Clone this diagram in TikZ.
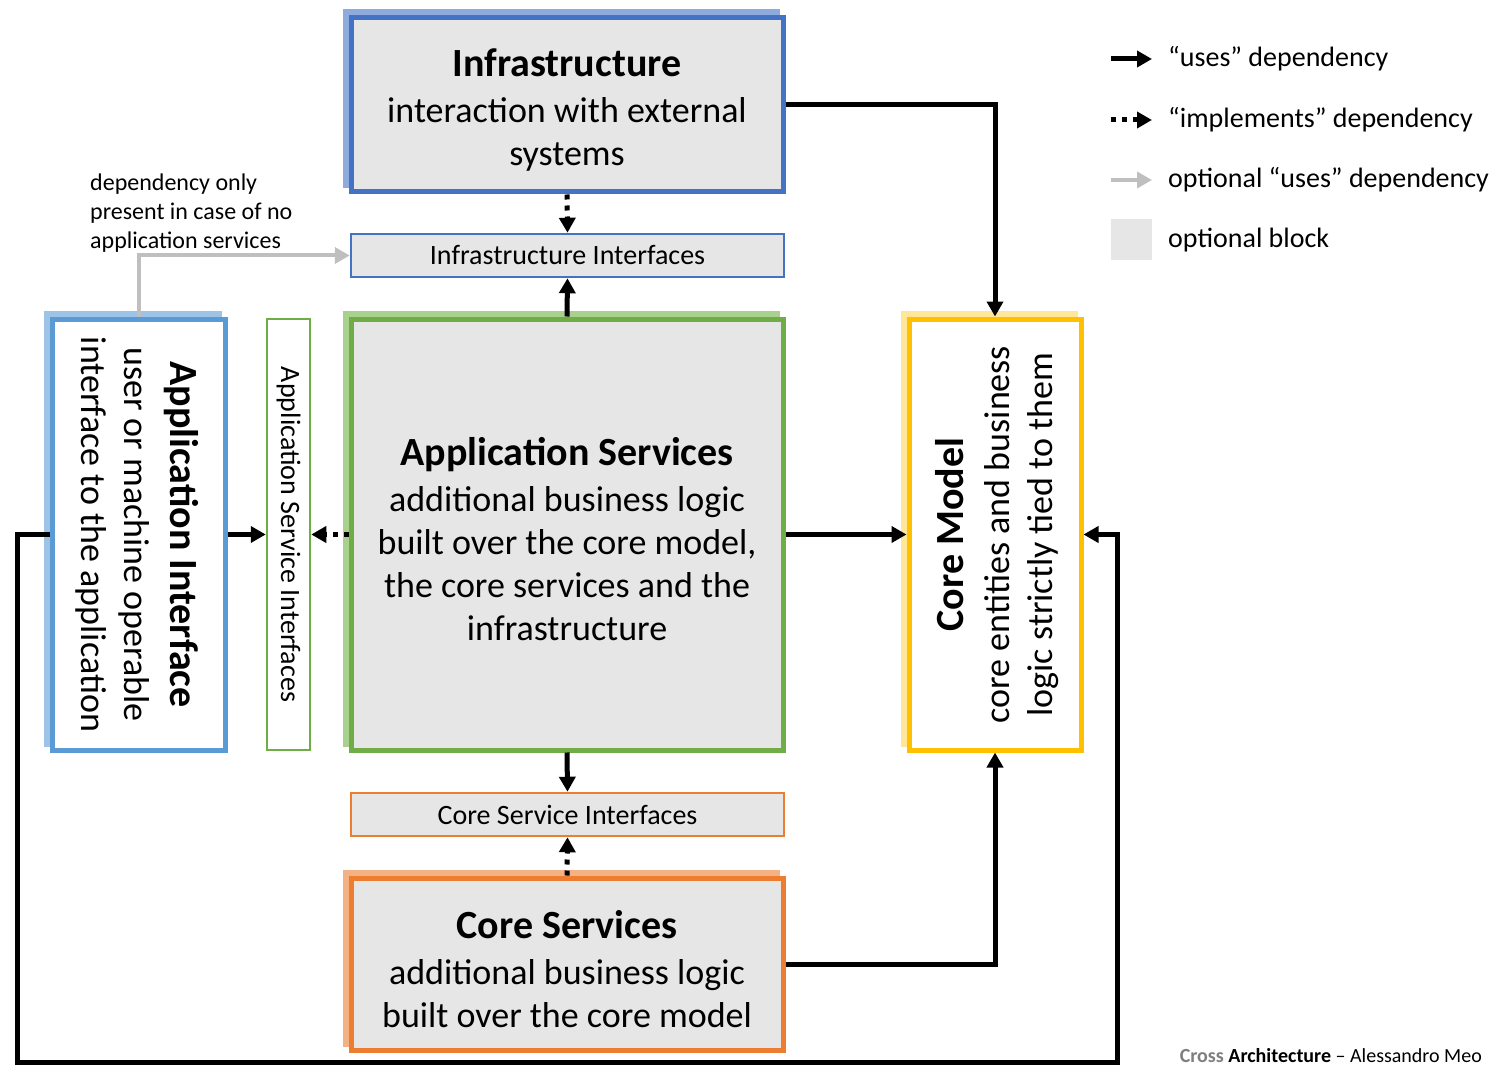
\documentclass[tikz,border=0pt]{standalone}
\usepackage{fontspec}
\setmainfont{Carlito}
\usepackage{graphicx}
\usepackage{tikz}
\usetikzlibrary{arrows.meta,positioning}

\definecolor{blockgray}{HTML}{E7E6E6}
\definecolor{infrablue}{HTML}{4472C4}
\definecolor{infrashadow}{HTML}{8FAADC}
\definecolor{appblue}{HTML}{5B9BD5}
\definecolor{appshadow}{HTML}{9DC3E6}
\definecolor{svcgreen}{HTML}{70AD47}
\definecolor{svcshadow}{HTML}{A9D18E}
\definecolor{coreyellow}{HTML}{FFC000}
\definecolor{coreshadow}{HTML}{FFE699}
\definecolor{coreorange}{HTML}{ED7D31}
\definecolor{orangeshadow}{HTML}{F4B183}
\definecolor{optgray}{HTML}{BFBFBF}
\definecolor{footgray}{HTML}{7F7F7F}

\newcommand{\blktitle}[1]{{\fontsize{40}{46}\selectfont\bfseries\rule{0pt}{38pt}#1}}

\tikzset{
	block/.style={draw=#1, line width=5pt, fill=blockgray, inner sep=0pt, align=center, font=\fontsize{36}{43}\selectfont},
	blockshadow/.style={preaction={draw=#1, fill=#1, line width=5pt, transform canvas={shift={(-6pt,6pt)}}}},
	iface/.style={draw=#1, line width=2.5pt, fill=blockgray, inner sep=0pt, font=\fontsize{28}{34}\selectfont},
	uses/.style={line width=5pt, -{Triangle[length=15pt,width=16pt]}},
	impl/.style={uses, dash pattern=on 5pt off 6pt},
	optuses/.style={line width=4pt, draw=optgray, -{Triangle[length=15pt,width=16pt]}, optgray},
	legtext/.style={anchor=west, inner sep=0pt, font=\fontsize{28}{34}\selectfont}
}

\begin{document}
\begin{tikzpicture}[x=1pt, y=-1pt]
	\useasboundingbox (0,0) rectangle (1504,1075);

	\node[block=infrablue, blockshadow=infrashadow, minimum width=432, minimum height=174] (infra) at (567,105)
		{\blktitle{Infrastructure}\\[3pt]interaction with external\\systems};
	\node[iface=infrablue, minimum width=433, minimum height=43] (infraif) at (567.5,255.5) {Infrastructure Interfaces};
	\node[block=svcgreen, blockshadow=svcshadow, minimum width=432, minimum height=431] (appsvc) at (567,534.5)
		{\blktitle{Application Services}\\[3pt]additional business logic\\built over the core model,\\the core services and the\\infrastructure};
	\node[iface=coreorange, minimum width=433, minimum height=43] (coreif) at (567.5,814.5) {Core Service Interfaces};
	\node[block=coreorange, blockshadow=orangeshadow, minimum width=432, minimum height=172] (coresvc) at (567,964)
		{\blktitle{Core Services}\\[3pt]additional business logic\\built over the core model};
	\node[block=appblue, blockshadow=appshadow, fill=white, minimum width=173, minimum height=431] (appif) at (138.5,534.5)
		{\rotatebox{-90}{\begin{tabular}{@{}c@{}}\blktitle{Application Interface}\\[3pt]user or machine operable\\interface to the application\end{tabular}}};
	\node[iface=svcgreen, fill=white, minimum width=43, minimum height=431] (appsvcif) at (288.5,534.5)
		{\rotatebox{-90}{Application Service Interfaces}};
	\node[block=coreyellow, blockshadow=coreshadow, fill=white, minimum width=172, minimum height=431] (coremodel) at (995,534.5)
		{\rotatebox{90}{\begin{tabular}{@{}c@{}}\blktitle{Core Model}\\[3pt]core entities and business\\logic strictly tied to them\end{tabular}}};

	\node[anchor=west, align=left, inner sep=0pt, font=\fontsize{24}{29}\selectfont] (note) at (90,213)
		{dependency only\\present in case of no\\application services};

	\draw[uses] (infra.east) -| (coremodel.north);
	\draw[impl] (infra.south) -- (infraif.north);
	\draw[uses] (appsvc.north) -- (infraif.south);
	\draw[uses] (appsvc.south) -- (coreif.north);
	\draw[impl] (coresvc.north) -- (coreif.south);
	\draw[uses] (coresvc.east) -| (coremodel.south);
	\draw[uses] (appsvc.east) -- (coremodel.west);
	\draw[impl] (appsvc.west) -- (appsvcif.east);
	\draw[uses] (appif.east) -- (appsvcif.west);
	\draw[optuses] (appif.north) |- (infraif.west);
	\coordinate (loopleft) at (17,1062);
	\coordinate (loopright) at (1117,1062);
	\draw[uses] (appif.west) -| (loopleft) -- (loopright) |- (coremodel.east);

	\node[legtext] (leguses) at (1168,59) {“uses” dependency};
	\node[legtext] (legimpl) at (1168,120) {“implements” dependency};
	\node[legtext] (legopt) at (1168,180) {optional “uses” dependency};
	\node[legtext] (legblock) at (1168,240) {optional block};
	\coordinate[left=57pt of leguses.west] (usesstart);
	\coordinate[left=57pt of legimpl.west] (implstart);
	\coordinate[left=57pt of legopt.west] (optstart);
	\draw[uses] (usesstart) -- ([xshift=-16pt]leguses.west);
	\draw[impl] (implstart) -- ([xshift=-16pt]legimpl.west);
	\draw[optuses] (optstart) -- ([xshift=-16pt]legopt.west);
	\node[fill=blockgray, minimum size=41, inner sep=0pt, left=16pt of legblock] (legsquare) {};

	\node[anchor=east, inner sep=0pt, font=\fontsize{20}{24}\selectfont] (credit) at (1482,1056)
		{\textcolor{footgray}{\bfseries Cross} \textbf{Architecture} – Alessandro Meo};
\end{tikzpicture}
\end{document}
